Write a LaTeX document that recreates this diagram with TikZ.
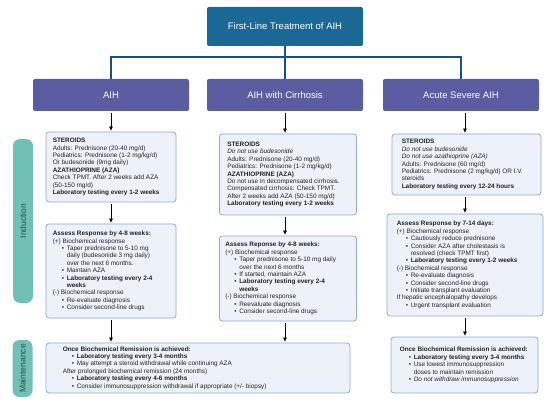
\documentclass[tikz,border=0pt]{standalone}
\usepackage{fontspec}
\setmainfont{Liberation Sans}
\usetikzlibrary{arrows.meta,calc}
\definecolor{titleblue}{HTML}{1A6896}
\definecolor{linkblue}{HTML}{1F4F7C}
\definecolor{subpurple}{HTML}{5C5CA0}
\definecolor{boxfill}{HTML}{EDF2FA}
\definecolor{boxline}{HTML}{94A8D4}
\definecolor{barteal}{HTML}{70C1B3}
\definecolor{bartext}{HTML}{22504A}
\definecolor{bodytext}{HTML}{222222}
\newcommand\bul{\hspace*{9pt}\makebox[5pt][l]{\textbullet}}
\newcommand\ind{\hspace*{14pt}}
\tikzset{
  titlebox/.style={fill=titleblue, rounded corners=2pt, text=white, font=\fontsize{9.5}{11}\selectfont, minimum width=156, minimum height=39, inner sep=0},
  subbox/.style={fill=subpurple, rounded corners=2pt, text=white, font=\fontsize{9.5}{11}\selectfont, minimum width=156, minimum height=32, inner sep=0},
  infobox/.style={fill=boxfill, draw=boxline, line width=0.8pt, rounded corners=3pt, inner sep=0},
  txt/.style={anchor=west, align=left, inner sep=0, text=bodytext, font=\fontsize{6.4}{7.4}\selectfont},
  sidebar/.style={fill=barteal, rounded corners=7pt, inner sep=0, minimum width=20},
  bartxt/.style={rotate=90, text=bartext, font=\fontsize{8.5}{10}\selectfont, inner sep=0},
  link/.style={draw=linkblue, line width=1.5pt},
  arr/.style={draw=black, line width=0.7pt, -{Triangle[length=4pt,width=3.5pt]}, shorten <=2pt, shorten >=1pt}
}
\begin{document}
\begin{tikzpicture}[x=1pt,y=1pt]
\useasboundingbox (0,0) rectangle (550,-404);

% title and subheaders
\node[titlebox] (title) at (285,-26.5) {First-Line Treatment of AIH};
\node[subbox] (sA) at (111,-95) {AIH};
\node[subbox] (sM) at (285,-95) {AIH with Cirrhosis};
\node[subbox] (sR) at (461,-95) {Acute Severe AIH};
\coordinate (hub) at (285,-57);
\draw[link] (title.south) -- (hub);
\draw[link] (sA.north) |- (hub) -| (sR.north);
\draw[link] (hub) -- (sM.north);

% side bars
\node[sidebar, minimum height=164] (ind) at (23,-221) {};
\node[bartxt] (indt) at (ind.center) {Induction};
\node[sidebar, minimum height=57] (mnt) at (22.5,-368.5) {};
\node[bartxt] (mntt) at (mnt.center) {Maintenance};

% boxes
\node[infobox, minimum width=130, minimum height=70] (A1) at (111,-167) {};
\node[infobox, minimum width=137, minimum height=81] (M1) at (288,-174.5) {};
\node[infobox, minimum width=149, minimum height=61] (R1) at (466.5,-164.5) {};
\node[infobox, minimum width=130, minimum height=94] (A2) at (111,-271) {};
\node[infobox, minimum width=137, minimum height=85] (M2) at (288,-278.5) {};
\node[infobox, minimum width=156, minimum height=102] (R2) at (465,-265) {};
\node[infobox, minimum width=304, minimum height=50] (MA) at (198,-368) {};
\node[infobox, minimum width=147, minimum height=56] (MR) at (464.5,-365) {};

\node[txt] (A1t) at ($(A1.west)+(7,0)$) {\textbf{STEROIDS}\\
Adults: Prednisone (20-40 mg/d)\\
Pediatrics: Prednisone (1-2 mg/kg/d)\\
Or budesonide (9mg daily)\\
\textbf{AZATHIOPRINE (AZA)}\\
Check TPMT. After 2 weeks add AZA\\
(50-150 mg/d)\\
\textbf{Laboratory testing every 1-2 weeks}};

\node[txt] (M1t) at ($(M1.west)+(8,0)$) {\textbf{STEROIDS}\\
\textit{Do not use budesonide}\\
Adults: Prednisone (20-40 mg/d)\\
Pediatrics: Prednisone (1-2 mg/kg/d)\\
\textbf{AZATHIOPRINE (AZA)}\\
Do not use in decompensated cirrhosis.\\
Compensated cirrhosis: Check TPMT.\\
After 2 weeks add AZA (50-150 mg/d)\\
\textbf{Laboratory testing every 1-2 weeks}};

\node[txt] (R1t) at ($(R1.west)+(10,0)$) {\textbf{STEROIDS}\\
\textit{Do not use budesonide}\\
\textit{Do not use azathioprine (AZA)}\\
Adults: Prednisone (60 mg/d)\\
Pediatrics: Prednisone (2 mg/kg/d) OR I.V.\\
steroids\\
\textbf{Laboratory testing every 12-24 hours}};

\node[txt] (A2t) at ($(A2.west)+(7,0)$) {\textbf{Assess Response by 4-8 weeks:}\\
(+) Biochemical response\\
\bul Taper prednisone to 5-10 mg\\
\ind daily (budesonide 3 mg daily)\\
\ind over the next 6 months.\\
\bul Maintain AZA\\
\bul \textbf{Laboratory testing every 2-4}\\
\ind \textbf{weeks}\\
(-) Biochemical response\\
\bul Re-evaluate diagnosis\\
\bul Consider second-line drugs};

\node[txt] (M2t) at ($(M2.west)+(6,0)$) {\textbf{Assess Reponse by 4-8 weeks:}\\
(+) Biochemical response\\
\bul Taper prednisone to 5-10 mg daily\\
\ind over the next 6 months\\
\bul If started, maintain AZA\\
\bul \textbf{Laboratory testing every 2-4}\\
\ind \textbf{weeks}\\
(-) Biochemical response\\
\bul Reevaluate diagnosis\\
\bul Consider second-line drugs};

\node[txt] (R2t) at ($(R2.west)+(10,0)$) {\textbf{Assess Response by 7-14 days:}\\
(+) Biochemical response\\
\bul Cautiously reduce prednisone\\
\bul Consider AZA after cholestasis is\\
\ind resolved (check TPMT first)\\
\bul \textbf{Laboratory testing every 1-2 weeks}\\
(-) Biochemical response\\
\bul Re-evaluate diagnosis\\
\bul Consider second-line drugs\\
\bul Initiate transplant evaluation\\
If hepatic encephalopathy develops\\
\bul Urgent transplant evaluation};

\node[txt] (MAt) at ($(MA.west)+(17,0)$) {\textbf{Once Biochemical Remission is achieved:}\\
\bul \textbf{Laboratory testing every 3-4 months}\\
\bul May attempt a steroid withdrawal while continuing AZA\\
After prolonged biochemical remission (24 months)\\
\bul \textbf{Laboratory testing every 4-6 months}\\
\bul Consider immunosuppression withdrawal if appropriate (+/- biopsy)};

\node[txt] (MRt) at ($(MR.west)+(9,0)$) {\textbf{Once Biochemical Remission is achieved:}\\
\bul \textbf{Laboratory testing every 3-4 months}\\
\bul Use lowest immunosuppression\\
\ind doses to maintain remission\\
\bul \textit{Do not withdraw immunosuppression}};

% arrows
\draw[arr] (sA.south) -- (sA.south |- A1.north);
\draw[arr] (A1.south) -- (A2.north);
\draw[arr] (A2.south) -- (A2.south |- MA.north);
\draw[arr] (sM.south) -- (sM.south |- M1.north);
\draw[arr] (sM.south |- M1.south) -- (sM.south |- M2.north);
\draw[arr] (sM.south |- M2.south) -- (sM.south |- MA.north);
\draw[arr] (R2.north |- sR.south) -- (R2.north |- R1.north);
\draw[arr] (R2.north |- R1.south) -- (R2.north);
\draw[arr] (R2.south) -- (R2.south |- MR.north);
\end{tikzpicture}
\end{document}
